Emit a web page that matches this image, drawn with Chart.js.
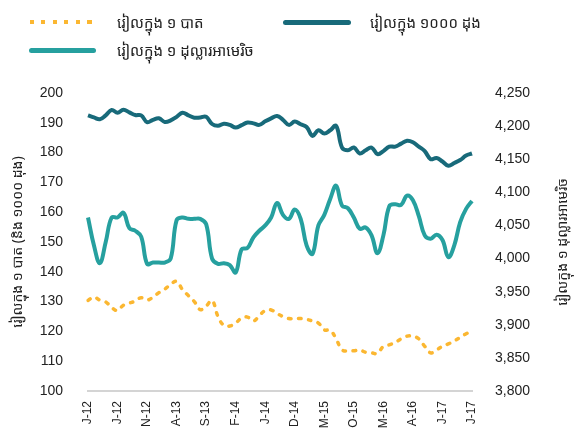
<!DOCTYPE html>
<html>
<head>
<meta charset="utf-8">
<script src="https://cdn.jsdelivr.net/npm/chart.js@4.4.1/dist/chart.umd.min.js"></script>
<style>
  html, body { margin: 0; padding: 0; background: #fff; }
  #wrap { position: relative; width: 577px; height: 437px; overflow: hidden; }
  #chart { position: absolute; left: 0; top: 0; }
  .lg-line { position: absolute; height: 5px; border-radius: 3px; }
  .lg-text { position: absolute; font: 15px "Noto Sans Khmer", "Khmer OS", "Hanuman", sans-serif; color: #222; line-height: 20px; white-space: nowrap; }
</style>
</head>
<body>
<div id="wrap">
  <canvas id="chart" width="577" height="437"></canvas>

  <!-- legend -->
  <div class="lg-line" id="lg-baht" style="left:30px;top:20px;width:62px;height:4px;border-radius:0;"></div>
  <div class="lg-text" style="left:117px;top:12px;">រៀលក្នុង ១ បាត</div>
  <div class="lg-line" id="lg-dong" style="left:283px;top:20px;width:68px;"></div>
  <div class="lg-text" style="left:370px;top:12px;">រៀលក្នុង ១០០០ ដុង</div>
  <div class="lg-line" id="lg-usd" style="left:29px;top:48px;width:67px;"></div>
  <div class="lg-text" style="left:117px;top:40px;">រៀលក្នុង ១ ដុល្លារអាមេរិច</div>
</div>

<script>
  const KHMER = '"Noto Sans Khmer", "Khmer OS", "Hanuman", sans-serif';
  const LATIN = '"Liberation Sans", Arial, sans-serif';

  const COLORS = {
    baht: '#fbb731',
    dong: '#186a7a',
    usd:  '#26a09f',
    axis: '#d4d4d4',
    text: '#222',
  };

  // month initials and years, Jan 2012 .. Jun 2017
  const monthInitials = ['J', 'F', 'M', 'A', 'M', 'J', 'J', 'A', 'S', 'O', 'N', 'D'];
  const years = ['12', '13', '14', '15', '16', '17'];
  const monthCount = 66;

  // riel per 1 baht (left axis)
  const bahtRiel = [
    130.4, 131.5, 130.5, 129.9, 128.0, 127.0, 128.8, 129.5, 130.2, 131.3, 130.5, 131.5,
    133.0, 134.2, 135.8, 136.8, 134.0, 132.0, 130.0, 127.3, 128.5, 130.4, 125.0, 122.0,
    121.8, 122.8, 124.5, 124.8, 123.5, 125.3, 127.0, 127.2, 126.0, 125.0, 124.3, 124.3,
    124.3, 124.0, 123.5, 122.8, 120.5, 120.4, 117.5, 113.8, 113.4, 113.5, 113.7, 113.0,
    112.8, 112.6, 115.0, 115.5, 116.3, 117.5, 118.4, 118.4, 117.5, 115.0, 112.8, 113.8,
    115.0, 115.8, 116.8, 118.0, 119.2, 120.2
  ];

  // riel per 1000 dong (left axis)
  const dongRiel = [
    192.5, 191.8, 191.2, 192.5, 194.3, 193.4, 194.4, 193.5, 192.6, 192.5, 190.2, 191.0,
    191.5, 190.3, 190.8, 192.0, 193.4, 192.5, 191.7, 191.8, 192.0, 189.6, 189.0, 189.7,
    189.3, 188.4, 189.2, 190.1, 189.8, 189.3, 190.5, 191.5, 192.3, 191.0, 189.3, 190.4,
    189.5, 188.6, 185.6, 187.5, 186.4, 187.5, 189.0, 181.7, 180.8, 181.7, 179.7, 180.8,
    181.7, 179.5, 180.5, 182.0, 182.0, 183.0, 184.0, 183.5, 182.0, 180.5, 177.8, 178.2,
    177.0, 175.6, 176.5, 177.5, 179.0, 179.7
  ];

  // riel per 1 US dollar (right axis)
  const usdRiel = [
    4062, 4020, 3993, 4025, 4062, 4062, 4069, 4046, 4042, 4033, 3992, 3994,
    3994, 3994, 4000, 4058, 4062, 4060, 4060, 4060, 4052, 4000, 3992, 3993,
    3990, 3979, 4014, 4016, 4032, 4042, 4050, 4062, 4084, 4066, 4060, 4074,
    4060, 4020, 4007, 4050, 4066, 4090, 4110, 4080, 4076, 4062, 4045, 4047,
    4035, 4008, 4035, 4079, 4082, 4081, 4095, 4088, 4064, 4035, 4030, 4036,
    4028, 4002, 4020, 4055, 4075, 4087
  ];

  const seriesNames = ['រៀលក្នុង ១ បាត', 'រៀលក្នុង ១០០០ ដុង', 'រៀលក្នុង ១ ដុល្លារអាមេរិច'];
  const leftTitle  = 'រៀលក្នុង ១ បាត (និង ១០០០ ដុង)';
  const rightTitle = 'រៀលក្នុង ១ ដុល្លារអាមេរិច';

  const labels = [];
  for (let i = 0; i < monthCount; i++) {
    labels.push(monthInitials[i % 12] + '-' + years[Math.floor(i / 12)]);
  }

  // legend swatches
  document.getElementById('lg-baht').style.background =
    `repeating-linear-gradient(90deg, ${COLORS.baht} 0 4px, transparent 4px 11.5px)`;
  document.getElementById('lg-dong').style.background = COLORS.dong;
  document.getElementById('lg-usd').style.background = COLORS.usd;

  Chart.defaults.font.family = LATIN;
  Chart.defaults.color = COLORS.text;

  // right axis title, rotated the same way as the left one (reads bottom to top)
  const rightTitlePlugin = {
    id: 'rightTitle',
    afterDraw(chart) {
      const { ctx, chartArea } = chart;
      const cy = (chartArea.top + chartArea.bottom) / 2;
      ctx.save();
      ctx.translate(563, cy);
      ctx.rotate(-Math.PI / 2);
      ctx.font = `14px ${KHMER}`;
      ctx.fillStyle = COLORS.text;
      ctx.textAlign = 'center';
      ctx.textBaseline = 'middle';
      ctx.fillText(rightTitle, 0, 0);
      ctx.restore();
    },
  };

  new Chart(document.getElementById('chart'), {
    type: 'line',
    data: {
      labels,
      datasets: [
        {
          label: seriesNames[0],
          data: bahtRiel,
          yAxisID: 'y',
          borderColor: COLORS.baht,
          borderWidth: 3.5,
          borderDash: [2.5, 7.5],
          borderCapStyle: 'round',
          pointRadius: 0,
          tension: 0.4,
          fill: false,
        },
        {
          label: seriesNames[1],
          data: dongRiel,
          yAxisID: 'y',
          borderColor: COLORS.dong,
          borderWidth: 4,
          pointRadius: 0,
          tension: 0.4,
          fill: false,
        },
        {
          label: seriesNames[2],
          data: usdRiel,
          yAxisID: 'y1',
          borderColor: COLORS.usd,
          borderWidth: 4,
          pointRadius: 0,
          tension: 0.4,
          fill: false,
        },
      ],
    },
    options: {
      responsive: false,
      animation: false,
      layout: { padding: { top: 93, left: 0, right: 0, bottom: 0 } },
      plugins: {
        legend: { display: false },
        tooltip: { enabled: false },
      },
      scales: {
        x: {
          offset: false,
          grid: { display: false, drawTicks: false },
          border: { display: true, color: COLORS.axis, width: 2 },
          ticks: {
            autoSkip: false,
            minRotation: 90,
            maxRotation: 90,
            padding: 10,
            font: { size: 12 },
            callback(v, i) { return i % 5 === 0 ? this.getLabelForValue(v) : null; },
          },
          afterFit: s => { s.height = 46; },
        },
        y: {
          position: 'left',
          min: 100,
          max: 200,
          grid: { display: false, drawTicks: false },
          border: { display: false },
          ticks: { stepSize: 10, padding: 25, font: { size: 14 } },
          title: {
            display: true,
            text: leftTitle,
            font: { size: 14, family: KHMER },
            padding: { top: 10, bottom: 0 },
          },
          afterFit: s => { s.width = 88; },
        },
        y1: {
          position: 'right',
          min: 3800,
          max: 4250,
          grid: { display: false, drawTicks: false },
          border: { display: false },
          ticks: {
            stepSize: 50,
            padding: 23,
            font: { size: 14 },
            callback: v => v.toLocaleString('en-US'),
          },
          afterFit: s => { s.width = 105; },
        },
      },
    },
    plugins: [rightTitlePlugin],
  });
</script>
</body>
</html>
